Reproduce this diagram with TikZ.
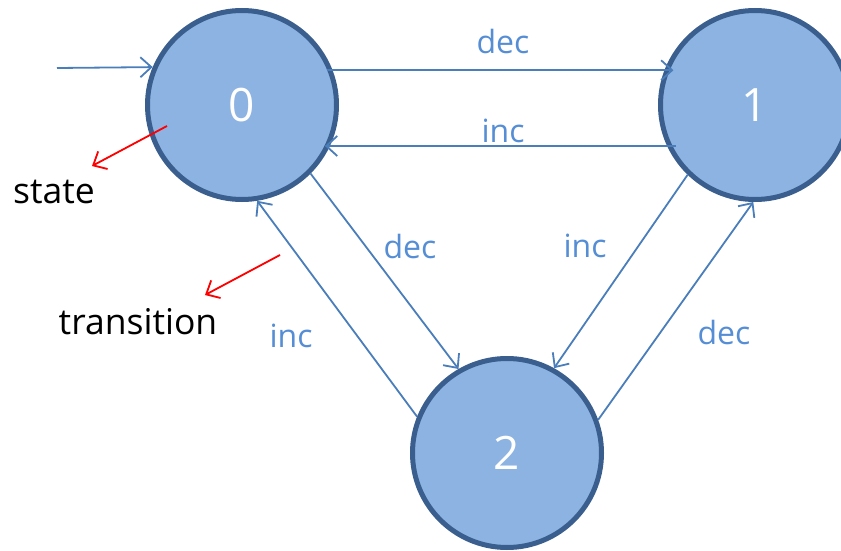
\documentclass[tikz,border=0pt]{standalone}
\usepackage{fontspec}
\setmainfont{Open Sans}
\usetikzlibrary{arrows.meta,calc}

\definecolor{statefill}{HTML}{8DB3E2}
\definecolor{stateline}{HTML}{3A5F8E}
\definecolor{arrowblue}{HTML}{4A7EBB}
\definecolor{labelblue}{HTML}{558ED5}

\tikzset{
  state/.style={circle, draw=stateline, fill=statefill, line width=5pt,
    minimum size=189pt, inner sep=0pt, text=white, font=\fontsize{46}{46}\selectfont},
  trans/.style={draw=arrowblue, line width=1.8pt,
    -{Straight Barb[length=11pt,width=20pt,line width=1.8pt]}},
  note/.style={draw=red, line width=1.8pt,
    -{Straight Barb[length=11pt,width=20pt,line width=1.8pt]}},
  tlabel/.style={text=labelblue, font=\fontsize{32}{32}\selectfont, inner sep=0pt},
  nlabel/.style={text=black, font=\fontsize{35.5}{35.5}\selectfont, inner sep=0pt}
}

\begin{document}
\begin{tikzpicture}[x=1pt,y=-1pt]
  \useasboundingbox (0,0) rectangle (841,551);

  % states
  \node[state] (n0) at (242,105) {0};
  \node[state] (n1) at (755,105) {1};
  \node[state] (n2) at (507,453) {2};

  % initial arrow
  \coordinate (init) at (57,68);
  \draw[trans] (init) -- (n0.157.7);

  % transitions
  \draw[trans, shorten <=-6pt, shorten >=-9pt] (n0.21) -- (n1.159);
  \draw[trans, shorten <=-9pt, shorten >=-5pt] (n1.205) -- (n0.-25);
  \draw[trans] (n0.-45) -- (n2.120.6);
  \draw[trans] (n2.158) -- (n0.-81);
  \draw[trans] (n1.226) -- (n2.61.8);
  \draw[trans] (n2.20.6) -- (n1.269.4);

  % transition labels
  \node[tlabel] (l01) at (503,42)  {dec};
  \node[tlabel] (l10) at (503,131) {inc};
  \node[tlabel] (l02) at (410,246) {dec};
  \node[tlabel] (l12) at (585,246) {inc};
  \node[tlabel] (l20) at (291,336) {inc};
  \node[tlabel] (l21) at (724,332) {dec};

  % annotations
  \coordinate (sa) at (167,126);
  \coordinate (sb) at (92,166);
  \draw[note] (sa) -- (sb);
  \node[nlabel] (state) at (54,192) {state};

  \coordinate (ta) at (280,255);
  \coordinate (tb) at (205,295);
  \draw[note] (ta) -- (tb);
  \node[nlabel] (transition) at (138,322) {transition};
\end{tikzpicture}
\end{document}
